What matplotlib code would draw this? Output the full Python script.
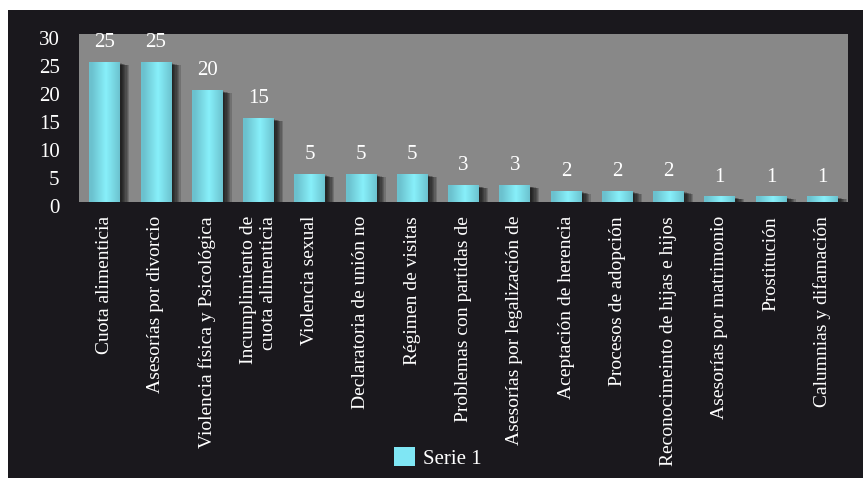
import numpy as np
import matplotlib
matplotlib.use("Agg")
import matplotlib.pyplot as plt
import matplotlib.transforms as mtransforms
from matplotlib.patches import Patch, Rectangle

categories = [
    "Cuota alimenticia",
    "Asesorías por divorcio",
    "Violencia física y Psicológica",
    "Incumplimiento de\ncuota alimenticia",
    "Violencia sexual",
    "Declaratoria de unión no",
    "Régimen de visitas",
    "Problemas con partidas de",
    "Asesorías por legalización de",
    "Aceptación de herencia",
    "Procesos de adopción",
    "Reconocimeinto de hijas e hijos",
    "Asesorías por matrimonio",
    "Prostitución",
    "Calumnias y difamación",
]
values = [25, 25, 20, 15, 5, 5, 5, 3, 3, 2, 2, 2, 1, 1, 1]
y_ticks = [0, 5, 10, 15, 20, 25, 30]
series_name = "Serie 1"

BG = "#1a181d"
PLOT_BG = "#888888"
CYAN = "#7fe6f4"

plt.rcParams["font.family"] = ["Liberation Serif", "DejaVu Serif"]

W, H = 863, 478
fig = plt.figure(figsize=(W / 100, H / 100), dpi=100, facecolor="white")
fig.patches.append(Rectangle((8 / W, 0), 1 - 8 / W, 1 - 10 / H,
                             transform=fig.transFigure, facecolor=BG,
                             edgecolor="none", zorder=-10))

ax = fig.add_axes([79 / W, (H - 202) / H, (848 - 79) / W, (202 - 34) / H])
ax.set_facecolor(PLOT_BG)
for s in ax.spines.values():
    s.set_visible(False)

x = np.arange(len(values))
width = 0.6

# soft shadow on the right of every bar
for k in range(7):
    dx = 0.03 + k * 0.025
    ax.bar(x + dx, np.array(values) - 0.25 - k * 0.05, width=width, bottom=0,
           color="black", alpha=0.17, linewidth=0, zorder=1)

bars = ax.bar(x, values, width=width, color=CYAN, linewidth=0, zorder=2)

# glossy gradient inside the bars
grad = np.linspace(0, 1, 256)
shade = np.clip(1 - np.abs(grad - 0.55) * 2.2, 0, 1)
dark = np.array([0.42, 0.76, 0.81])
light = np.array([0.53, 0.94, 0.98])
img = dark[None, :] + (light - dark)[None, :] * shade[:, None]
img = img[None, :, :]
for b in bars:
    im = ax.imshow(img, extent=[b.get_x(), b.get_x() + b.get_width(), 0, b.get_height()],
                   aspect="auto", zorder=3, interpolation="bilinear")
    im.set_clip_path(b)

for xi, v in zip(x, values):
    ax.annotate(str(v), (xi, v), xytext=(0, 7), textcoords="offset points",
                ha="center", va="bottom", color="white", fontsize=15, zorder=4)

ax.set_xlim(-0.5, len(values) - 0.5)
ax.set_ylim(0, 30)
ax.set_yticks(y_ticks)
ax.set_xticks(x)
ax.set_xticklabels(categories, rotation=90, ha="center", va="top",
                   multialignment="right", fontsize=14, color="white")
ax.tick_params(axis="both", length=0, colors="white")
ax.tick_params(axis="x", pad=10)
ax.tick_params(axis="y", pad=14, labelsize=15)
offset = mtransforms.ScaledTranslation(0, -4 / 100, fig.dpi_scale_trans)
for lab in ax.get_yticklabels():
    lab.set_transform(lab.get_transform() + offset)

fig.legend(handles=[Patch(facecolor=CYAN, edgecolor="none", label=series_name)],
           loc="center", bbox_to_anchor=(438 / W, (H - 458) / H), frameon=False,
           handlelength=1.0, handleheight=1.0, handletextpad=0.4,
           fontsize=15, labelcolor="white")

fig.savefig("out.png", dpi=100, facecolor=fig.get_facecolor())
